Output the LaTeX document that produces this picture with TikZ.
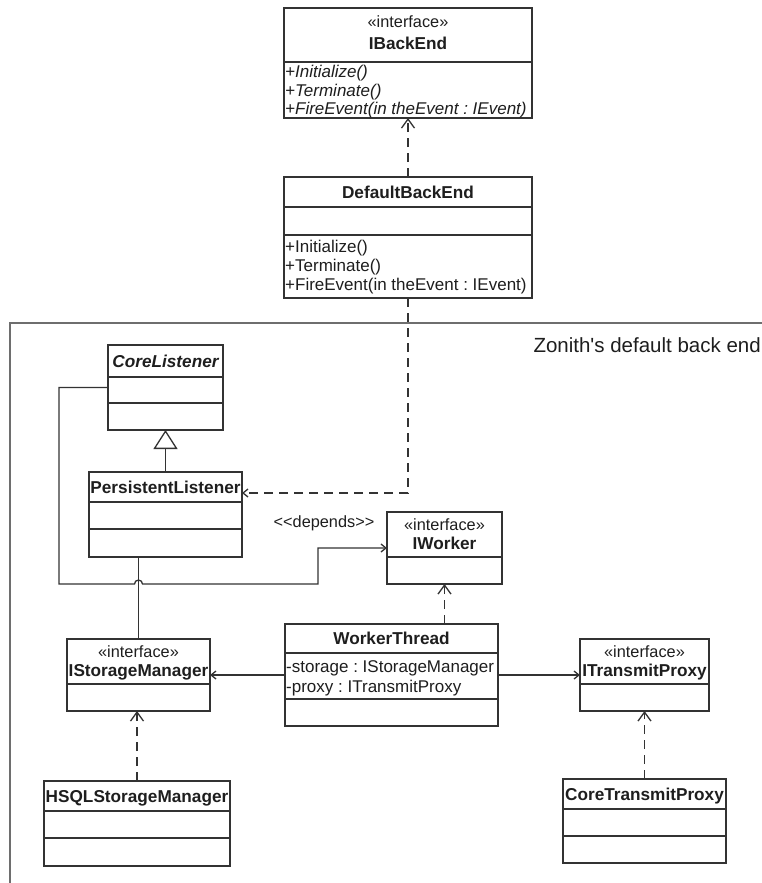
\documentclass[tikz,border=0pt]{standalone}
\usepackage{fontspec}
\setmainfont{Liberation Sans}
\newfontfamily\plainquotes{Liberation Sans}[Ligatures=TeXOff]
\usetikzlibrary{arrows.meta}
\definecolor{lineC}{HTML}{333333}
\definecolor{textC}{HTML}{1E1E1E}
\definecolor{frameC}{HTML}{6E6E6E}
\frenchspacing
\begin{document}
\begin{tikzpicture}[x=1pt,y=-1pt,
  cls/.style={draw=lineC, line width=1.4pt, fill=white, inner sep=0pt, outer sep=0pt},
  divider/.style={draw=lineC, line width=1.4pt},
  cname/.style={font=\fontsize{17.2}{18}\selectfont\bfseries, text=textC, inner sep=0pt, anchor=base},
  stereo/.style={font=\fontsize{16.3}{18}\selectfont, text=textC, inner sep=0pt, anchor=base},
  member/.style={font=\fontsize{17}{18}\selectfont, text=textC, inner sep=0pt, anchor=base west},
  imember/.style={member, font=\fontsize{17}{18}\selectfont\itshape},
  conn/.style={draw=lineC, line width=1.3pt},
  dconn/.style={conn, dash pattern=on 9pt off 6pt},
  bigopen/.style={-{Straight Barb[length=9pt,width=13pt]}},
  smallopen/.style={-{Straight Barb[length=5pt,width=8pt]}},
  gen/.style={-{Triangle[open,length=19pt,width=24pt,fill=white]}},
]
\useasboundingbox (0,0) rectangle (762,883);

% package frame
\draw[frameC, line width=1.8pt] (762,323) -- (10,323) -- (10,883);
\node[font=\plainquotes\fontsize{20.5}{22}\selectfont, text=textC, inner sep=0pt, anchor=base east] (pkg) at (761,352) {Zonith's default back end};

% IBackEnd
\node[cls, minimum width=248pt, minimum height=110pt] (ibe) at (408,63) {};
\draw[divider] (ibe.west |- 0,62) -- (ibe.east |- 0,62);
\node[stereo] (ibe-st) at (408,28) {«interface»};
\node[cname] (ibe-nm) at (408,49) {IBackEnd};
\node[imember] (ibe-m1) at (285,77.5) {+Initialize()};
\node[imember] (ibe-m2) at (285,96) {+Terminate()};
\node[imember] (ibe-m3) at (285,114.5) {+FireEvent(in theEvent : IEvent)};

% DefaultBackEnd
\node[cls, minimum width=248pt, minimum height=121pt] (dbe) at (408,237.5) {};
\draw[divider] (dbe.west |- 0,207) -- (dbe.east |- 0,207);
\draw[divider] (dbe.west |- 0,235) -- (dbe.east |- 0,235);
\node[cname] (dbe-nm) at (408,198) {DefaultBackEnd};
\node[member] (dbe-m1) at (285,252.5) {+Initialize()};
\node[member] (dbe-m2) at (285,271.5) {+Terminate()};
\node[member] (dbe-m3) at (285,290.5) {+FireEvent(in theEvent : IEvent)};

% CoreListener
\node[cls, minimum width=115pt, minimum height=85pt] (cl) at (165.5,387.5) {};
\draw[divider] (cl.west |- 0,377) -- (cl.east |- 0,377);
\draw[divider] (cl.west |- 0,403) -- (cl.east |- 0,403);
\node[cname, font=\fontsize{17.2}{18}\selectfont\bfseries\itshape] (cl-nm) at (165.5,367) {CoreListener};

% PersistentListener
\node[cls, minimum width=153pt, minimum height=85pt] (pl) at (165.5,514.5) {};
\draw[divider] (pl.west |- 0,502) -- (pl.east |- 0,502);
\draw[divider] (pl.west |- 0,529) -- (pl.east |- 0,529);
\node[cname] (pl-nm) at (165.5,493) {PersistentListener};

% IWorker
\node[cls, minimum width=115pt, minimum height=72pt] (iw) at (444.5,548) {};
\draw[divider] (iw.west |- 0,557) -- (iw.east |- 0,557);
\node[stereo] (iw-st) at (444.5,530) {«interface»};
\node[cname] (iw-nm) at (444.5,549) {IWorker};

\node[font=\fontsize{16.3}{18}\selectfont, text=textC, inner sep=0pt, anchor=base] (dep) at (324,527) {<{}<depends>{}>};

% IStorageManager
\node[cls, minimum width=143pt, minimum height=72pt] (ism) at (138.5,675) {};
\draw[divider] (ism.west |- 0,684) -- (ism.east |- 0,684);
\node[stereo] (ism-st) at (138.5,657) {«interface»};
\node[cname] (ism-nm) at (138.5,676) {IStorageManager};

% WorkerThread
\node[cls, minimum width=213pt, minimum height=102pt] (wt) at (391.5,675) {};
\draw[divider] (wt.west |- 0,653) -- (wt.east |- 0,653);
\draw[divider] (wt.west |- 0,699) -- (wt.east |- 0,699);
\node[cname] (wt-nm) at (391.5,644.5) {WorkerThread};
\node[member] (wt-a1) at (286,672) {-storage : IStorageManager};
\node[member] (wt-a2) at (286,692) {-proxy : ITransmitProxy};

% ITransmitProxy
\node[cls, minimum width=129pt, minimum height=72pt] (itp) at (644.5,675) {};
\draw[divider] (itp.west |- 0,684) -- (itp.east |- 0,684);
\node[stereo] (itp-st) at (644.5,657) {«interface»};
\node[cname] (itp-nm) at (644.5,676) {ITransmitProxy};

% HSQLStorageManager
\node[cls, minimum width=186pt, minimum height=85pt] (hsql) at (137,823.5) {};
\draw[divider] (hsql.west |- 0,811) -- (hsql.east |- 0,811);
\draw[divider] (hsql.west |- 0,838) -- (hsql.east |- 0,838);
\node[cname] (hsql-nm) at (137,802) {HSQLStorageManager};

% CoreTransmitProxy
\node[cls, minimum width=163pt, minimum height=84pt] (ctp) at (644.5,821) {};
\draw[divider] (ctp.west |- 0,809) -- (ctp.east |- 0,809);
\draw[divider] (ctp.west |- 0,836) -- (ctp.east |- 0,836);
\node[cname] (ctp-nm) at (644.5,800) {CoreTransmitProxy};

% relations
\draw[dconn, bigopen] (dbe.north) -- (ibe.south);
\draw[dconn, smallopen] (dbe.south) |- ([yshift=-21pt]pl.north east);
\draw[conn, gen] (pl.north) -- (cl.south);
\draw[conn, smallopen] (cl.west) -| (59,584) -- (134.5,584)
  arc[start angle=180, end angle=0, radius=4pt] -- (318,584) |- (iw.west);
\draw[conn] (ism.north |- pl.south) -- (ism.north);
\draw[dconn, bigopen] (wt.north -| iw.south) -- (iw.south);
\draw[conn, smallopen] (wt.west) -- (ism.east);
\draw[conn, smallopen] (wt.east) -- (itp.west);
\draw[dconn, bigopen] (hsql.north) -- (hsql.north |- ism.south);
\draw[dconn, bigopen] (ctp.north) -- (ctp.north |- itp.south);
\end{tikzpicture}
\end{document}
